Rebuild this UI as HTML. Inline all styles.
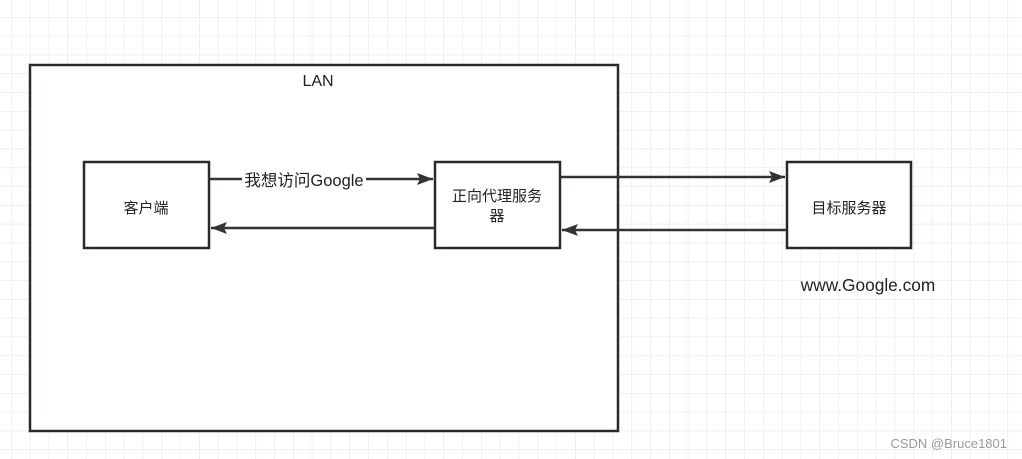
<!DOCTYPE html>
<html><head><meta charset="utf-8"><style>
html,body{margin:0;padding:0;background:#fff;}
svg{display:block;}
text{font-family:"Liberation Sans","Noto Sans CJK SC",sans-serif;fill:#222;}
</style></head><body>
<svg width="1022" height="459" xmlns="http://www.w3.org/2000/svg">
<defs>
<pattern id="g" x="11" y="17" width="18.8" height="18.8" patternUnits="userSpaceOnUse">
<path d="M0 0H18.8M0 0V18.8" stroke="#e8e8e8" stroke-width="1.3" fill="none"/>
</pattern>
<marker id="b" viewBox="0 0 16 12" markerWidth="16" markerHeight="12" refX="16" refY="6" orient="auto" markerUnits="userSpaceOnUse">
<path d="M0,0 L16,6 L0,12 L3,6 Z" fill="#333"/>
</marker>
</defs>
<rect width="1022" height="459" fill="url(#g)"/>
<rect x="30" y="65" width="588" height="366" fill="#fff" stroke="#262b31" stroke-width="2.5"/>
<text x="318" y="86" font-size="16" text-anchor="middle">LAN</text>
<rect x="84" y="162" width="125" height="86" fill="#fff" stroke="#262b31" stroke-width="2.5"/>
<text x="146" y="213" font-size="15" text-anchor="middle">客户端</text>
<rect x="435" y="162" width="125" height="86" fill="#fff" stroke="#262b31" stroke-width="2.5"/>
<text x="497" y="201" font-size="15" text-anchor="middle">正向代理服务</text>
<text x="497" y="221" font-size="15" text-anchor="middle">器</text>
<rect x="787" y="162" width="124" height="86" fill="#fff" stroke="#262b31" stroke-width="2.5"/>
<text x="849" y="213" font-size="15" text-anchor="middle">目标服务器</text>
<line x1="210" y1="179" x2="433" y2="179" stroke="#333" stroke-width="2.5" marker-end="url(#b)"/>
<rect x="242" y="170" width="124" height="20" fill="#fff"/>
<text x="304" y="186" font-size="16.5" text-anchor="middle">我想访问Google</text>
<line x1="434" y1="228" x2="211" y2="228" stroke="#333" stroke-width="2.5" marker-end="url(#b)"/>
<line x1="561" y1="177" x2="785" y2="177" stroke="#333" stroke-width="2.5" marker-end="url(#b)"/>
<line x1="786" y1="230" x2="562" y2="230" stroke="#333" stroke-width="2.5" marker-end="url(#b)"/>
<text x="868" y="291" font-size="17.3" text-anchor="middle">www.Google.com</text>
<text x="1007" y="448" font-size="13" text-anchor="end" style="fill:#999">CSDN @Bruce1801</text>
</svg>
</body></html>
